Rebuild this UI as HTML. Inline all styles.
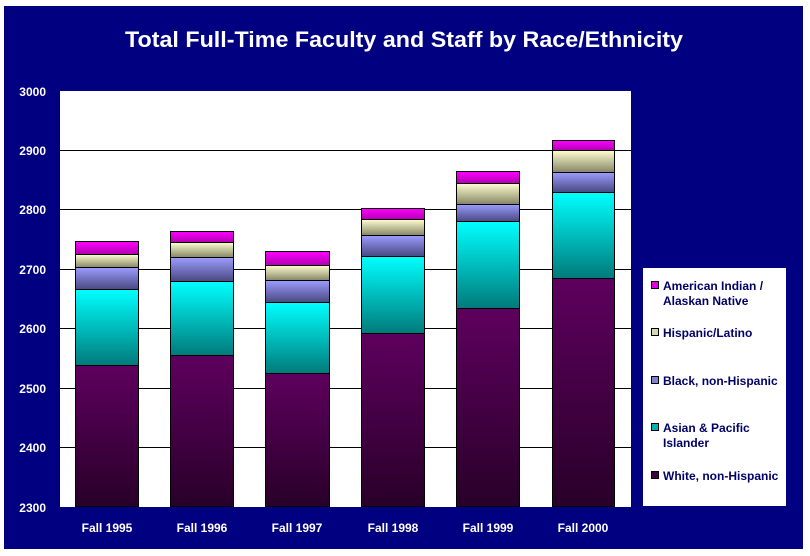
<!DOCTYPE html>
<html><head><meta charset="utf-8"><style>
html,body{margin:0;padding:0;background:#fff;}
svg{display:block;font-family:"Liberation Sans",Arial,sans-serif;font-weight:bold;}
</style></head><body>
<svg width="810" height="556" viewBox="0 0 810 556" xmlns="http://www.w3.org/2000/svg">
<defs>
<linearGradient id="gw" x1="0" y1="0" x2="0" y2="1"><stop offset="0" stop-color="#5e005e"/><stop offset="1" stop-color="#280028"/></linearGradient>
<linearGradient id="ga" x1="0" y1="0" x2="0" y2="1"><stop offset="0" stop-color="#00ffff"/><stop offset="1" stop-color="#007a7a"/></linearGradient>
<linearGradient id="gb" x1="0" y1="0" x2="0" y2="1"><stop offset="0" stop-color="#9c9cff"/><stop offset="1" stop-color="#484880"/></linearGradient>
<linearGradient id="gh" x1="0" y1="0" x2="0" y2="1"><stop offset="0" stop-color="#ffffd0"/><stop offset="1" stop-color="#858566"/></linearGradient>
<linearGradient id="gm" x1="0" y1="0" x2="0" y2="1"><stop offset="0" stop-color="#ff00ff"/><stop offset="1" stop-color="#b000b0"/></linearGradient>
</defs>
<rect x="4" y="6" width="799" height="543" fill="#000080"/>
<text x="125" y="47" fill="#fff" font-size="22" textLength="558" lengthAdjust="spacingAndGlyphs">Total Full-Time Faculty and Staff by Race/Ethnicity</text>
<rect x="60" y="91" width="571" height="416" fill="#fff"/>
<g stroke="#000" stroke-width="1">
<line x1="60" x2="631" y1="150.5" y2="150.5"/><line x1="60" x2="631" y1="209.5" y2="209.5"/>
<line x1="60" x2="631" y1="269.5" y2="269.5"/><line x1="60" x2="631" y1="328.5" y2="328.5"/>
<line x1="60" x2="631" y1="388.5" y2="388.5"/><line x1="60" x2="631" y1="447.5" y2="447.5"/>
</g>
<g fill="#fff" font-size="12" text-anchor="end">
<text x="46" y="96">3000</text><text x="46" y="155">2900</text><text x="46" y="214">2800</text>
<text x="46" y="274">2700</text><text x="46" y="333">2600</text><text x="46" y="393">2500</text>
<text x="46" y="452">2400</text><text x="46" y="512">2300</text>
</g>
<g stroke="#000" stroke-width="1">
<rect x="75.5" y="365.5" width="63" height="141" fill="url(#gw)"/>
<rect x="75.5" y="289.5" width="63" height="76" fill="url(#ga)"/>
<rect x="75.5" y="267.5" width="63" height="22" fill="url(#gb)"/>
<rect x="75.5" y="254.5" width="63" height="13" fill="url(#gh)"/>
<rect x="75.5" y="241.5" width="63" height="13" fill="url(#gm)"/>
<rect x="170.5" y="355.5" width="63" height="151" fill="url(#gw)"/>
<rect x="170.5" y="281.5" width="63" height="74" fill="url(#ga)"/>
<rect x="170.5" y="257.5" width="63" height="24" fill="url(#gb)"/>
<rect x="170.5" y="242.5" width="63" height="15" fill="url(#gh)"/>
<rect x="170.5" y="231.5" width="63" height="11" fill="url(#gm)"/>
<rect x="265.5" y="373.5" width="64" height="133" fill="url(#gw)"/>
<rect x="265.5" y="302.5" width="64" height="71" fill="url(#ga)"/>
<rect x="265.5" y="280.5" width="64" height="22" fill="url(#gb)"/>
<rect x="265.5" y="265.5" width="64" height="15" fill="url(#gh)"/>
<rect x="265.5" y="251.5" width="64" height="14" fill="url(#gm)"/>
<rect x="361.5" y="333.5" width="63" height="173" fill="url(#gw)"/>
<rect x="361.5" y="256.5" width="63" height="77" fill="url(#ga)"/>
<rect x="361.5" y="235.5" width="63" height="21" fill="url(#gb)"/>
<rect x="361.5" y="219.5" width="63" height="16" fill="url(#gh)"/>
<rect x="361.5" y="208.5" width="63" height="11" fill="url(#gm)"/>
<rect x="456.5" y="308.5" width="63" height="198" fill="url(#gw)"/>
<rect x="456.5" y="221.5" width="63" height="87" fill="url(#ga)"/>
<rect x="456.5" y="204.5" width="63" height="17" fill="url(#gb)"/>
<rect x="456.5" y="183.5" width="63" height="21" fill="url(#gh)"/>
<rect x="456.5" y="171.5" width="63" height="12" fill="url(#gm)"/>
<rect x="552.5" y="278.5" width="62" height="228" fill="url(#gw)"/>
<rect x="552.5" y="192.5" width="62" height="86" fill="url(#ga)"/>
<rect x="552.5" y="172.5" width="62" height="20" fill="url(#gb)"/>
<rect x="552.5" y="150.5" width="62" height="22" fill="url(#gh)"/>
<rect x="552.5" y="140.5" width="62" height="10" fill="url(#gm)"/>
</g>
<g fill="#fff" font-size="12" text-anchor="middle">
<text x="107" y="532">Fall 1995</text><text x="202" y="532">Fall 1996</text><text x="297" y="532">Fall 1997</text>
<text x="393" y="532">Fall 1998</text><text x="488" y="532">Fall 1999</text><text x="583" y="532">Fall 2000</text>
</g>
<rect x="643" y="268" width="143" height="238" fill="#fff"/>
<g stroke="#000" stroke-width="1">
<rect x="651.5" y="281.5" width="7" height="7" fill="#e000e0"/>
<rect x="651.5" y="328.5" width="7" height="7" fill="#d8d8b0"/>
<rect x="651.5" y="376.5" width="7" height="7" fill="#8080d0"/>
<rect x="651.5" y="423.5" width="7" height="7" fill="#00b0b0"/>
<rect x="651.5" y="471.5" width="7" height="7" fill="#400040"/>
</g>
<g fill="#000066" font-size="12">
<text x="663" y="290">American Indian /</text><text x="663" y="305">Alaskan Native</text>
<text x="663" y="337">Hispanic/Latino</text>
<text x="663" y="385">Black, non-Hispanic</text>
<text x="663" y="432">Asian &amp; Pacific</text><text x="663" y="447">Islander</text>
<text x="663" y="480">White, non-Hispanic</text>
</g>
</svg>
</body></html>
